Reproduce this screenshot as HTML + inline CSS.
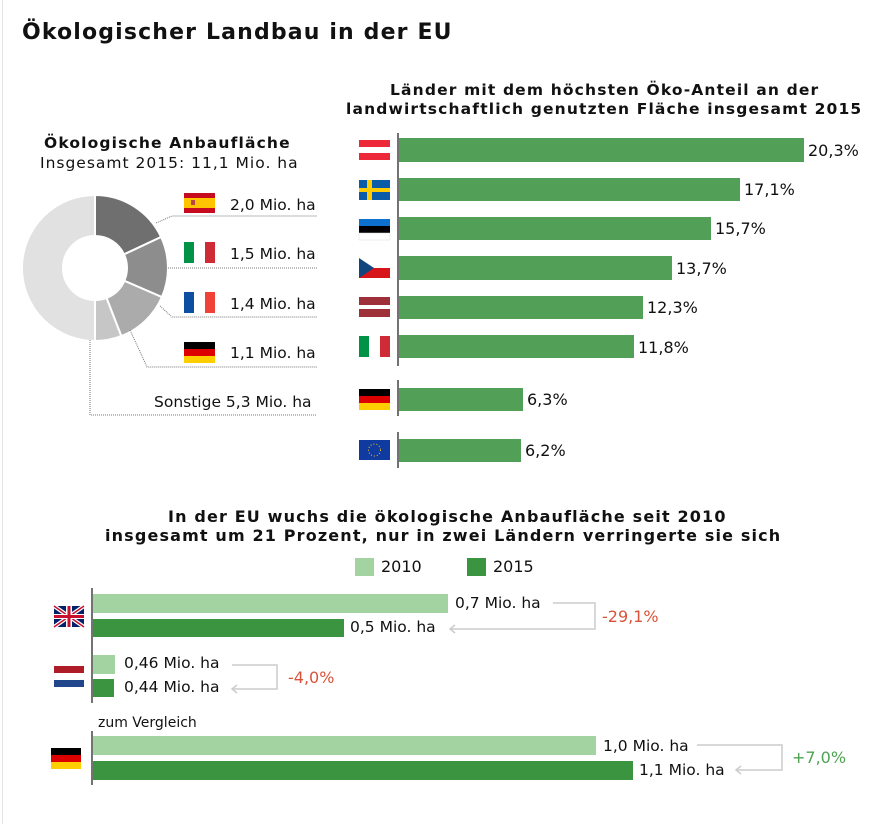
<!DOCTYPE html>
<html><head><meta charset="utf-8"><style>
body{margin:0;background:#fff;}
#c{position:relative;width:895px;height:824px;overflow:hidden;font-family:"DejaVu Sans","Liberation Sans",sans-serif;color:#111;}
.t{position:absolute;white-space:nowrap;font-size:15px;}
.b{font-weight:bold;letter-spacing:1.15px;}
.bar{position:absolute;}
</style></head><body><div id="c">
<div style="position:absolute;left:2px;top:0;width:1px;height:824px;background:#e4e4e4"></div>
<div class="t b" style="left:22px;top:20px;font-size:22px">Ökologischer Landbau in der EU</div>

<div class="t b" style="left:44px;top:134px;font-size:15.5px">Ökologische Anbaufläche</div>
<div class="t" style="left:40px;top:154px;font-size:15.5px;letter-spacing:1px">Insgesamt 2015: 11,1 Mio. ha</div>

<svg width="895" height="824" style="position:absolute;left:0;top:0">
<g stroke="#fff" stroke-width="2">
<path d="M95,195 A73,73 0 0 1 161.1,237 L124,254.4 A32,32 0 0 0 95,236Z" fill="#6f6f6f"/>
<path d="M161.1,237 A73,73 0 0 1 161.9,297.1 L124.3,280.8 A32,32 0 0 0 124,254.4Z" fill="#8d8d8d"/>
<path d="M161.9,297.1 A73,73 0 0 1 121.3,336.1 L106.5,297.9 A32,32 0 0 0 124.3,280.8Z" fill="#ababab"/>
<path d="M121.3,336.1 A73,73 0 0 1 95,341 L95,300 A32,32 0 0 0 106.5,297.9Z" fill="#c6c6c6"/>
<path d="M95,341 A73,73 0 1 1 95,195 L95,236 A32,32 0 1 0 95,300Z" fill="#e1e1e1"/>
</g>
<g fill="none" stroke="#777" stroke-width="1" stroke-dasharray="1,1">
<polyline points="156,223 172,216 317,216"/>
<polyline points="168,268 317,268"/>
<polyline points="160,306 172,317 317,317"/>
<polyline points="130,330 147,367 317,367"/>
<polyline points="90,340 90,415 317,415"/>
</g>
<line x1="398" y1="133" x2="398" y2="468" stroke="#444" stroke-width="1.5"/>
<line x1="398" y1="366" x2="398" y2="380" stroke="#fff" stroke-width="2"/>
<line x1="398" y1="416" x2="398" y2="432" stroke="#fff" stroke-width="2"/>
<line x1="92" y1="588" x2="92" y2="703" stroke="#444" stroke-width="1.5"/>
<line x1="92" y1="731" x2="92" y2="785" stroke="#444" stroke-width="1.5"/>
<g fill="none" stroke="#ccc" stroke-width="1.5">
<polyline points="553,603 595,603 595,629 450,629"/>
<polyline points="232,665 277,665 277,689 232,689"/>
<polyline points="697,745 782,745 782,770 736,770"/>
<polyline points="455,625 450,629 455,633"/>
<polyline points="237,685 232,689 237,693"/>
<polyline points="741,766 736,770 741,774"/>
</g>
<g>
<rect x="359" y="140" width="31" height="20" fill="#fff"/><rect x="359" y="140" width="31" height="7" fill="#ed2939"/><rect x="359" y="153" width="31" height="7" fill="#ed2939"/>
<rect x="359" y="180" width="31" height="20" fill="#0a5ba8"/><rect x="367" y="180" width="5" height="20" fill="#fecc00"/><rect x="359" y="188" width="31" height="4" fill="#fecc00"/>
<rect x="359" y="219" width="31" height="7" fill="#0d72ce"/><rect x="359" y="226" width="31" height="7" fill="#000"/><rect x="359" y="233" width="31" height="7" fill="#fff" stroke="#ddd" stroke-width=".5"/>
<rect x="359" y="258" width="31" height="10" fill="#fff"/><rect x="359" y="268" width="31" height="10" fill="#d7141a"/><polygon points="359,258 374,268 359,278" fill="#11457e"/>
<rect x="359" y="297" width="31" height="20" fill="#9e3039"/><rect x="359" y="305" width="31" height="4" fill="#fff"/>
<rect x="359" y="336" width="10" height="21" fill="#009246"/><rect x="369" y="336" width="11" height="21" fill="#fff"/><rect x="380" y="336" width="10" height="21" fill="#ce2b37"/>
<rect x="359" y="389" width="31" height="7" fill="#000"/><rect x="359" y="396" width="31" height="7" fill="#dd0000"/><rect x="359" y="403" width="31" height="7" fill="#ffce00"/>
<rect x="359" y="440" width="31" height="20" fill="#0f3aa0"/><circle cx="374.5" cy="450" r="6" fill="none" stroke="#fc0" stroke-width="1" stroke-dasharray="1,2"/>
</g>
<rect x="184" y="193" width="31" height="20" fill="#c60b1e"/><rect x="184" y="198" width="31" height="10" fill="#ffc400"/><rect x="191" y="200" width="4" height="5" fill="#b44"/>
<rect x="184" y="242" width="10" height="21" fill="#009246"/><rect x="194" y="242" width="11" height="21" fill="#fff"/><rect x="205" y="242" width="10" height="21" fill="#ce2b37"/>
<rect x="184" y="292" width="10" height="21" fill="#0b4ea2"/><rect x="194" y="292" width="11" height="21" fill="#fff"/><rect x="205" y="292" width="10" height="21" fill="#ef4135"/>
<rect x="184" y="342" width="31" height="7" fill="#000"/><rect x="184" y="349" width="31" height="7" fill="#dd0000"/><rect x="184" y="356" width="31" height="7" fill="#ffce00"/>
<rect x="54" y="606" width="30" height="21" fill="#012169"/>
<line x1="54" y1="606" x2="84" y2="627" stroke="#fff" stroke-width="4"/><line x1="84" y1="606" x2="54" y2="627" stroke="#fff" stroke-width="4"/>
<line x1="54" y1="606" x2="84" y2="627" stroke="#c8102e" stroke-width="1.5"/><line x1="84" y1="606" x2="54" y2="627" stroke="#c8102e" stroke-width="1.5"/>
<rect x="66" y="606" width="6" height="21" fill="#fff"/><rect x="54" y="614" width="30" height="5" fill="#fff"/>
<rect x="67.5" y="606" width="3" height="21" fill="#c8102e"/><rect x="54" y="615" width="30" height="3" fill="#c8102e"/>
<rect x="54" y="666" width="30" height="7" fill="#ae1c28"/><rect x="54" y="673" width="30" height="7" fill="#fff"/><rect x="54" y="680" width="30" height="7" fill="#21468b"/>
<rect x="51" y="748" width="30" height="7" fill="#000"/><rect x="51" y="755" width="30" height="7" fill="#dd0000"/><rect x="51" y="762" width="30" height="7" fill="#ffce00"/>
<rect x="355" y="558" width="19" height="18" fill="#a3d3a0"/>
<rect x="467" y="558" width="19" height="18" fill="#3a9440"/>
</svg>

<div class="t" style="left:230px;top:196px;font-size:15.5px">2,0 Mio. ha</div>
<div class="t" style="left:230px;top:245px;font-size:15.5px">1,5 Mio. ha</div>
<div class="t" style="left:230px;top:295px;font-size:15.5px">1,4 Mio. ha</div>
<div class="t" style="left:230px;top:344px;font-size:15.5px">1,1 Mio. ha</div>
<div class="t" style="left:154px;top:393px;font-size:15.5px">Sonstige 5,3 Mio. ha</div>

<div class="t b" style="left:390px;top:81px;font-size:15.5px">Länder mit dem höchsten Öko-Anteil an der</div>
<div class="t b" style="left:346px;top:100px;font-size:15.5px">landwirtschaftlich genutzten Fläche insgesamt 2015</div>

<div class="bar" style="left:399px;top:138px;width:405px;height:24px;background:#529f57"></div>
<div class="bar" style="left:399px;top:178px;width:341px;height:23px;background:#529f57"></div>
<div class="bar" style="left:399px;top:217px;width:312px;height:23px;background:#529f57"></div>
<div class="bar" style="left:399px;top:256px;width:273px;height:24px;background:#529f57"></div>
<div class="bar" style="left:399px;top:296px;width:244px;height:23px;background:#529f57"></div>
<div class="bar" style="left:399px;top:335px;width:235px;height:23px;background:#529f57"></div>
<div class="bar" style="left:399px;top:388px;width:124px;height:23px;background:#529f57"></div>
<div class="bar" style="left:399px;top:439px;width:122px;height:23px;background:#529f57"></div>
<div class="t" style="left:808px;top:141px;font-size:16px">20,3%</div>
<div class="t" style="left:744px;top:180px;font-size:16px">17,1%</div>
<div class="t" style="left:715px;top:219px;font-size:16px">15,7%</div>
<div class="t" style="left:676px;top:259px;font-size:16px">13,7%</div>
<div class="t" style="left:647px;top:298px;font-size:16px">12,3%</div>
<div class="t" style="left:638px;top:338px;font-size:16px">11,8%</div>
<div class="t" style="left:527px;top:390px;font-size:16px">6,3%</div>
<div class="t" style="left:525px;top:441px;font-size:16px">6,2%</div>

<div class="t b" style="left:168px;top:507px;font-size:16px">In der EU wuchs die ökologische Anbaufläche seit 2010</div>
<div class="t b" style="left:105px;top:526px;font-size:16px">insgesamt um 21 Prozent, nur in zwei Ländern verringerte sie sich</div>
<div class="t" style="left:381px;top:557px;font-size:16px">2010</div>
<div class="t" style="left:493px;top:557px;font-size:16px">2015</div>

<div class="bar" style="left:93px;top:594px;width:355px;height:19px;background:#a3d3a0"></div>
<div class="bar" style="left:93px;top:619px;width:251px;height:18px;background:#3a9440"></div>
<div class="bar" style="left:93px;top:655px;width:22px;height:19px;background:#a3d3a0"></div>
<div class="bar" style="left:93px;top:679px;width:21px;height:18px;background:#3a9440"></div>
<div class="bar" style="left:93px;top:736px;width:503px;height:19px;background:#a3d3a0"></div>
<div class="bar" style="left:93px;top:761px;width:540px;height:19px;background:#3a9440"></div>

<div class="t" style="left:455px;top:594px;font-size:15.5px">0,7 Mio. ha</div>
<div class="t" style="left:350px;top:618px;font-size:15.5px">0,5 Mio. ha</div>
<div class="t" style="left:124px;top:654px;font-size:15.5px">0,46 Mio. ha</div>
<div class="t" style="left:124px;top:678px;font-size:15.5px">0,44 Mio. ha</div>
<div class="t" style="left:98px;top:715px;font-size:14px">zum Vergleich</div>
<div class="t" style="left:603px;top:737px;font-size:15.5px">1,0 Mio. ha</div>
<div class="t" style="left:639px;top:761px;font-size:15.5px">1,1 Mio. ha</div>
<div class="t" style="left:602px;top:607px;font-size:16px;color:#d9533b">-29,1%</div>
<div class="t" style="left:288px;top:668px;font-size:16px;color:#d9533b">-4,0%</div>
<div class="t" style="left:792px;top:748px;font-size:16px;color:#4ea352">+7,0%</div>
</div></body></html>
